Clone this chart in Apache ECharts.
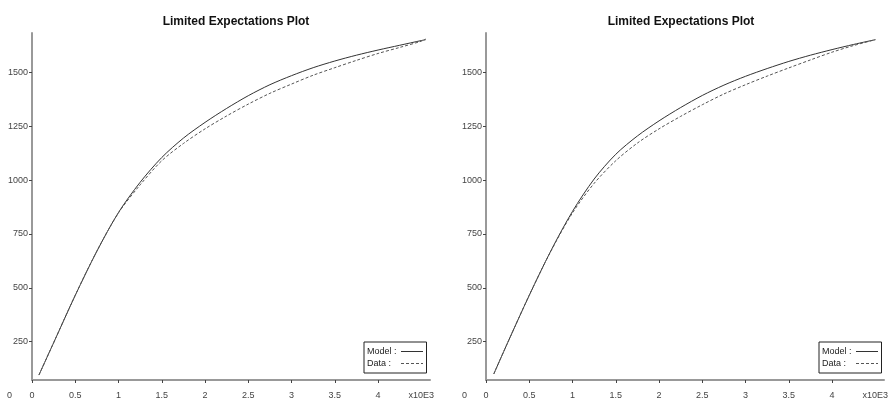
<!DOCTYPE html>
<html>
<head>
<meta charset="utf-8">
<script src="https://cdn.jsdelivr.net/npm/echarts@6/dist/echarts.min.js"></script>
<style>html,body{margin:0;padding:0;background:#fff;}#c{width:892px;height:401px;}</style>
</head>
<body>
<div id="c"></div>
<script>
// x values in thousands (x10E3)
const xLeft = [0.08, 0.25, 0.5, 0.75, 1.0, 1.25, 1.5, 1.75, 2.0, 2.25, 2.5, 2.75, 3.0, 3.25, 3.5, 3.75, 4.0, 4.25, 4.5, 4.55];
const modelLeft = [95, 245, 465, 670, 850, 990, 1105, 1195, 1268, 1333, 1392, 1443, 1485, 1522, 1553, 1580, 1604, 1626, 1648, 1652];
const dataLeft  = [95, 245, 466, 671, 848, 978, 1090, 1170, 1238, 1298, 1353, 1403, 1446, 1487, 1522, 1556, 1588, 1616, 1645, 1655];

const xRight = [0.09, 0.25, 0.5, 0.75, 1.0, 1.25, 1.5, 1.75, 2.0, 2.25, 2.5, 2.75, 3.0, 3.25, 3.5, 3.75, 4.0, 4.25, 4.5];
const modelRight = [100, 245, 465, 672, 855, 1005, 1120, 1205, 1275, 1337, 1393, 1441, 1482, 1518, 1551, 1580, 1606, 1630, 1652];
const dataRight  = [100, 245, 466, 670, 848, 985, 1090, 1172, 1238, 1296, 1350, 1400, 1443, 1483, 1521, 1558, 1594, 1625, 1652];

const xTickValues = [0, 0.5, 1, 1.5, 2, 2.5, 3, 3.5, 4];
const xLabelValues = [0, 0.5, 1, 1.5, 2, 2.5, 3, 3.5, 4, 4.5];
const yTickValues = [250, 500, 750, 1000, 1250, 1500];
const titleText = 'Limited Expectations Plot';
const unitText = 'x10E3';

const chart = echarts.init(document.getElementById('c'));
const font = 'Liberation Sans, Arial, sans-serif';

function xAxis(gi) {
  return {
    type: 'value', gridIndex: gi, min: 0, max: 4.6,
    axisLine: {show: true, lineStyle: {color: '#999', width: 2}},
    axisTick: {show: true, length: 3, inside: false, customValues: xTickValues, lineStyle: {color: '#444'}},
    axisLabel: {customValues: xLabelValues, margin: 11, fontSize: 9, color: '#444', fontFamily: font,
      formatter: v => (v === 4.5 ? unitText : String(v))},
    splitLine: {show: false}
  };
}
function yAxis(gi) {
  return {
    type: 'value', gridIndex: gi, min: 72, max: 1683,
    axisLine: {show: true, lineStyle: {color: '#999', width: 2}},
    axisTick: {show: true, length: 3, customValues: yTickValues, lineStyle: {color: '#444'}},
    axisLabel: {customValues: yTickValues, margin: 4, fontSize: 9, color: '#444', fontFamily: font,
      formatter: v => String(v)},
    splitLine: {show: false}
  };
}
function series(name, xs, ys, gi, dashed) {
  return {
    name: name, type: 'line', xAxisIndex: gi, yAxisIndex: gi,
    data: xs.map((x, i) => [x, ys[i]]),
    showSymbol: false, symbol: 'none', smooth: 0.3, silent: true,
    lineStyle: {color: dashed ? '#555' : '#333', width: 1, type: dashed ? [3, 2] : 'solid'},
    itemStyle: {color: dashed ? '#555' : '#333'}
  };
}
function legend(left) {
  return {
    data: ['Model', 'Data'], orient: 'vertical', align: 'right',
    left: left, top: 342, borderColor: '#222', borderWidth: 1, padding: [5, 3, 5, 3],
    itemGap: 3, itemWidth: 22, itemHeight: 8,
    itemStyle: {opacity: 0},
    lineStyle: {width: 1},
    formatter: n => '{a|' + n + ' :}',
    textStyle: {fontSize: 9, color: '#222', fontFamily: font,
      rich: {a: {width: 29, align: 'left', fontSize: 9, color: '#222', fontFamily: font}}}
  };
}

chart.setOption({
  animation: false,
  backgroundColor: '#fff',
  title: [
    {text: titleText, left: 231, top: 11, textAlign: 'center', textStyle: {fontSize: 12, fontWeight: 'bold', color: '#111', fontFamily: font}},
    {text: titleText, left: 676, top: 11, textAlign: 'center', textStyle: {fontSize: 12, fontWeight: 'bold', color: '#111', fontFamily: font}}
  ],
  grid: [
    {left: 32, top: 33, width: 398, height: 347},
    {left: 486, top: 33, width: 398, height: 347}
  ],
  xAxis: [xAxis(0), xAxis(1)],
  yAxis: [yAxis(0), yAxis(1)],
  legend: [legend(364), legend(819)],
  series: [
    series('Model', xLeft, modelLeft, 0, false),
    series('Data', xLeft, dataLeft, 0, true),
    series('Model', xRight, modelRight, 1, false),
    series('Data', xRight, dataRight, 1, true)
  ],
  graphic: [
    {type: 'text', left: 7, top: 391, style: {text: '0', fontSize: 9, fill: '#444', fontFamily: font}},
    {type: 'text', left: 462, top: 391, style: {text: '0', fontSize: 9, fill: '#444', fontFamily: font}}
  ]
});
</script>
</body>
</html>
